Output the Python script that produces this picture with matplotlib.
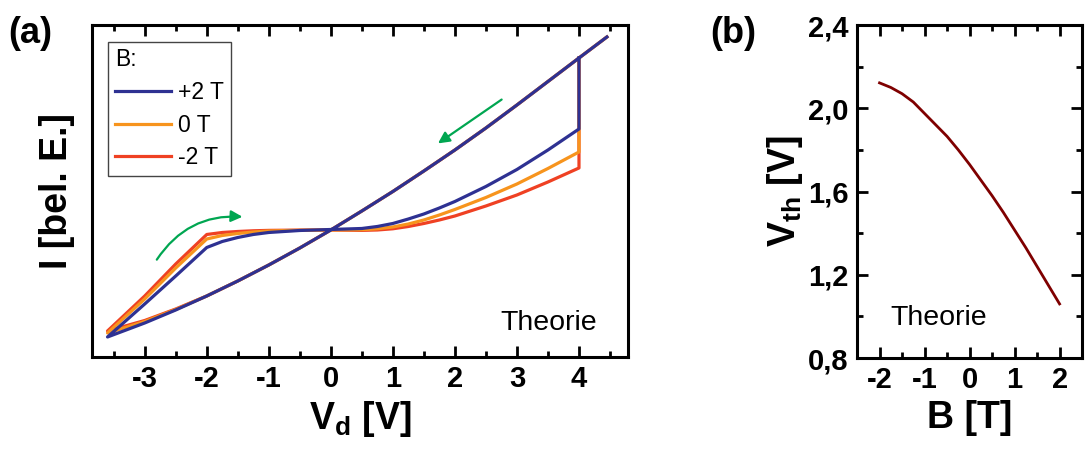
import matplotlib
matplotlib.use("Agg")
import matplotlib.pyplot as plt
from matplotlib.patches import FancyArrowPatch
from matplotlib.ticker import MultipleLocator, FuncFormatter

plt.rcParams['font.family'] = ['Liberation Sans', 'DejaVu Sans']
plt.rcParams['axes.unicode_minus'] = False
plt.rcParams['mathtext.fontset'] = 'custom'
plt.rcParams['mathtext.rm'] = 'Liberation Sans'
plt.rcParams['mathtext.bf'] = 'Liberation Sans:bold'

# panel (a): I-V hysteresis, arbitrary current units
v_down = [4.45, 4.0, 3.5, 3.0, 2.5, 2.0, 1.5, 1.0, 0.5, 0.0, -0.5, -1.0, -1.5, -2.0, -2.5, -3.0, -3.6]
i_down_p2 = [1.93, 1.72, 1.485, 1.25, 1.02, 0.80, 0.59, 0.385, 0.19, 0.0, -0.18, -0.35, -0.51, -0.66, -0.80, -0.93, -1.07]
i_down_0 = [1.93, 1.72, 1.485, 1.25, 1.02, 0.80, 0.59, 0.385, 0.19, 0.0, -0.18, -0.35, -0.51, -0.66, -0.795, -0.915, -1.03]
i_down_m2 = [1.93, 1.72, 1.485, 1.25, 1.02, 0.80, 0.59, 0.385, 0.19, 0.0, -0.18, -0.35, -0.51, -0.66, -0.79, -0.905, -1.01]

v_up = [-3.6, -3.0, -2.5, -2.0, -1.75, -1.5, -1.25, -1.0, -0.5, 0.0, 0.5, 0.75,
        1.0, 1.25, 1.5, 1.75, 2.0, 2.5, 3.0, 3.5, 4.0, 4.0]
i_up_p2 = [-1.07, -0.74, -0.46, -0.175, -0.115, -0.075, -0.045, -0.025, -0.005, 0.005, 0.015, 0.035,
           0.065, 0.11, 0.16, 0.22, 0.285, 0.435, 0.605, 0.80, 1.01, 1.72]
i_up_0 = [-1.03, -0.69, -0.38, -0.09, -0.055, -0.035, -0.02, -0.01, -0.003, 0.0, 0.003, 0.012,
          0.03, 0.06, 0.10, 0.15, 0.205, 0.325, 0.46, 0.615, 0.78, 1.72]
i_up_m2 = [-1.01, -0.66, -0.34, -0.045, -0.025, -0.015, -0.008, -0.004, -0.001, 0.0, -0.004, 0.0,
           0.012, 0.035, 0.065, 0.10, 0.14, 0.24, 0.35, 0.48, 0.62, 1.72]

labels = ['+2 T', '0 T', '-2 T']
colors = ['#2E3192', '#F7941D', '#EF4123']

# panel (b): threshold voltage vs field
b_field = [-2, -1.75, -1.5, -1.25, -1, -0.75, -0.5, -0.25, 0, 0.25, 0.5, 0.75, 1, 1.25, 1.5, 1.75, 2]
v_th = [2.122, 2.100, 2.070, 2.030, 1.975, 1.920, 1.865, 1.800, 1.730, 1.655, 1.580, 1.500,
        1.415, 1.330, 1.240, 1.150, 1.060]

fig = plt.figure(figsize=(10.85, 4.5), dpi=100)
ax = fig.add_axes([0.0848, 0.2067, 0.4940, 0.7378])
bx = fig.add_axes([0.7899, 0.2044, 0.2074, 0.7400])

curves = [(i_down_m2, i_up_m2, colors[2], labels[2]),
          (i_down_0, i_up_0, colors[1], labels[1]),
          (i_down_p2, i_up_p2, colors[0], labels[0])]
handles = {}
for i_dn, i_up, c, lab in curves:
    h, = ax.plot(v_down + v_up, i_dn + i_up, color=c, lw=2.3, label=lab,
                 solid_joinstyle='round')
    handles[lab] = h

ax.set_xlim(-3.85, 4.79)
ax.set_ylim(-1.27, 2.05)
ax.xaxis.set_major_locator(MultipleLocator(1))
ax.xaxis.set_minor_locator(MultipleLocator(0.5))
ax.tick_params(axis='x', which='both', direction='in', top=True, width=2)
ax.tick_params(axis='x', which='major', length=8, labelsize=21, pad=6)
ax.tick_params(axis='x', which='minor', length=4)
ax.tick_params(axis='y', left=False, labelleft=False)
for lbl in ax.get_xticklabels():
    lbl.set_fontweight('bold')
for s in ax.spines.values():
    s.set_linewidth(2.2)
ax.set_xlabel(r'$\mathbf{V_d}$ [V]', fontsize=27, fontweight='bold', labelpad=4)
ax.set_ylabel('I [bel. E.]', fontsize=27, fontweight='bold', labelpad=12)

leg = ax.legend([handles[l] for l in labels], labels, title='B:', loc='upper left',
                bbox_to_anchor=(0.03, 0.95), fontsize=16.5, title_fontsize=16.5,
                handlelength=2.45, handletextpad=0.3, labelspacing=0.42,
                borderpad=0.3, fancybox=False, framealpha=1, borderaxespad=0)
leg._legend_box.align = 'left'
leg.get_frame().set_edgecolor('#444444')
leg.get_frame().set_linewidth(1.0)

ax.text(0.761, 0.08, 'Theorie', transform=ax.transAxes, fontsize=20.5)

green = '#00A651'
ax.add_patch(FancyArrowPatch((-2.83, -0.32), (-1.38, 0.13), arrowstyle='-|>',
                             connectionstyle='arc3,rad=-0.3', mutation_scale=17,
                             color=green, lw=1.6))
ax.add_patch(FancyArrowPatch((2.79, 1.32), (1.69, 0.85), arrowstyle='-|>',
                             mutation_scale=17, color=green, lw=1.6))

# panel (b)
bx.plot(b_field, v_th, color='#7F0000', lw=2)
bx.set_xlim(-2.5, 2.5)
bx.set_ylim(0.8, 2.4)
bx.xaxis.set_major_locator(MultipleLocator(1))
bx.xaxis.set_minor_locator(MultipleLocator(0.5))
bx.yaxis.set_major_locator(MultipleLocator(0.4))
bx.yaxis.set_minor_locator(MultipleLocator(0.2))
bx.yaxis.set_major_formatter(FuncFormatter(lambda v, p: f'{v:.1f}'.replace('.', ',')))
bx.tick_params(which='both', direction='in', top=True, right=True, width=2)
bx.tick_params(which='major', length=8, labelsize=21, pad=6)
bx.tick_params(which='minor', length=4)
for lbl in bx.get_xticklabels() + bx.get_yticklabels():
    lbl.set_fontweight('bold')
for s in bx.spines.values():
    s.set_linewidth(2.2)
bx.set_xlabel('B [T]', fontsize=27, fontweight='bold', labelpad=4)
bx.set_ylabel(r'$\mathbf{V_{th}}$ [V]', fontsize=27, fontweight='bold', labelpad=2)
bx.text(0.15, 0.1, 'Theorie', transform=bx.transAxes, fontsize=20.5)

fig.text(0.008, 0.905, '(a)', fontsize=26, fontweight='bold')
fig.text(0.655, 0.905, '(b)', fontsize=26, fontweight='bold')

fig.savefig('out.png', dpi=100)
